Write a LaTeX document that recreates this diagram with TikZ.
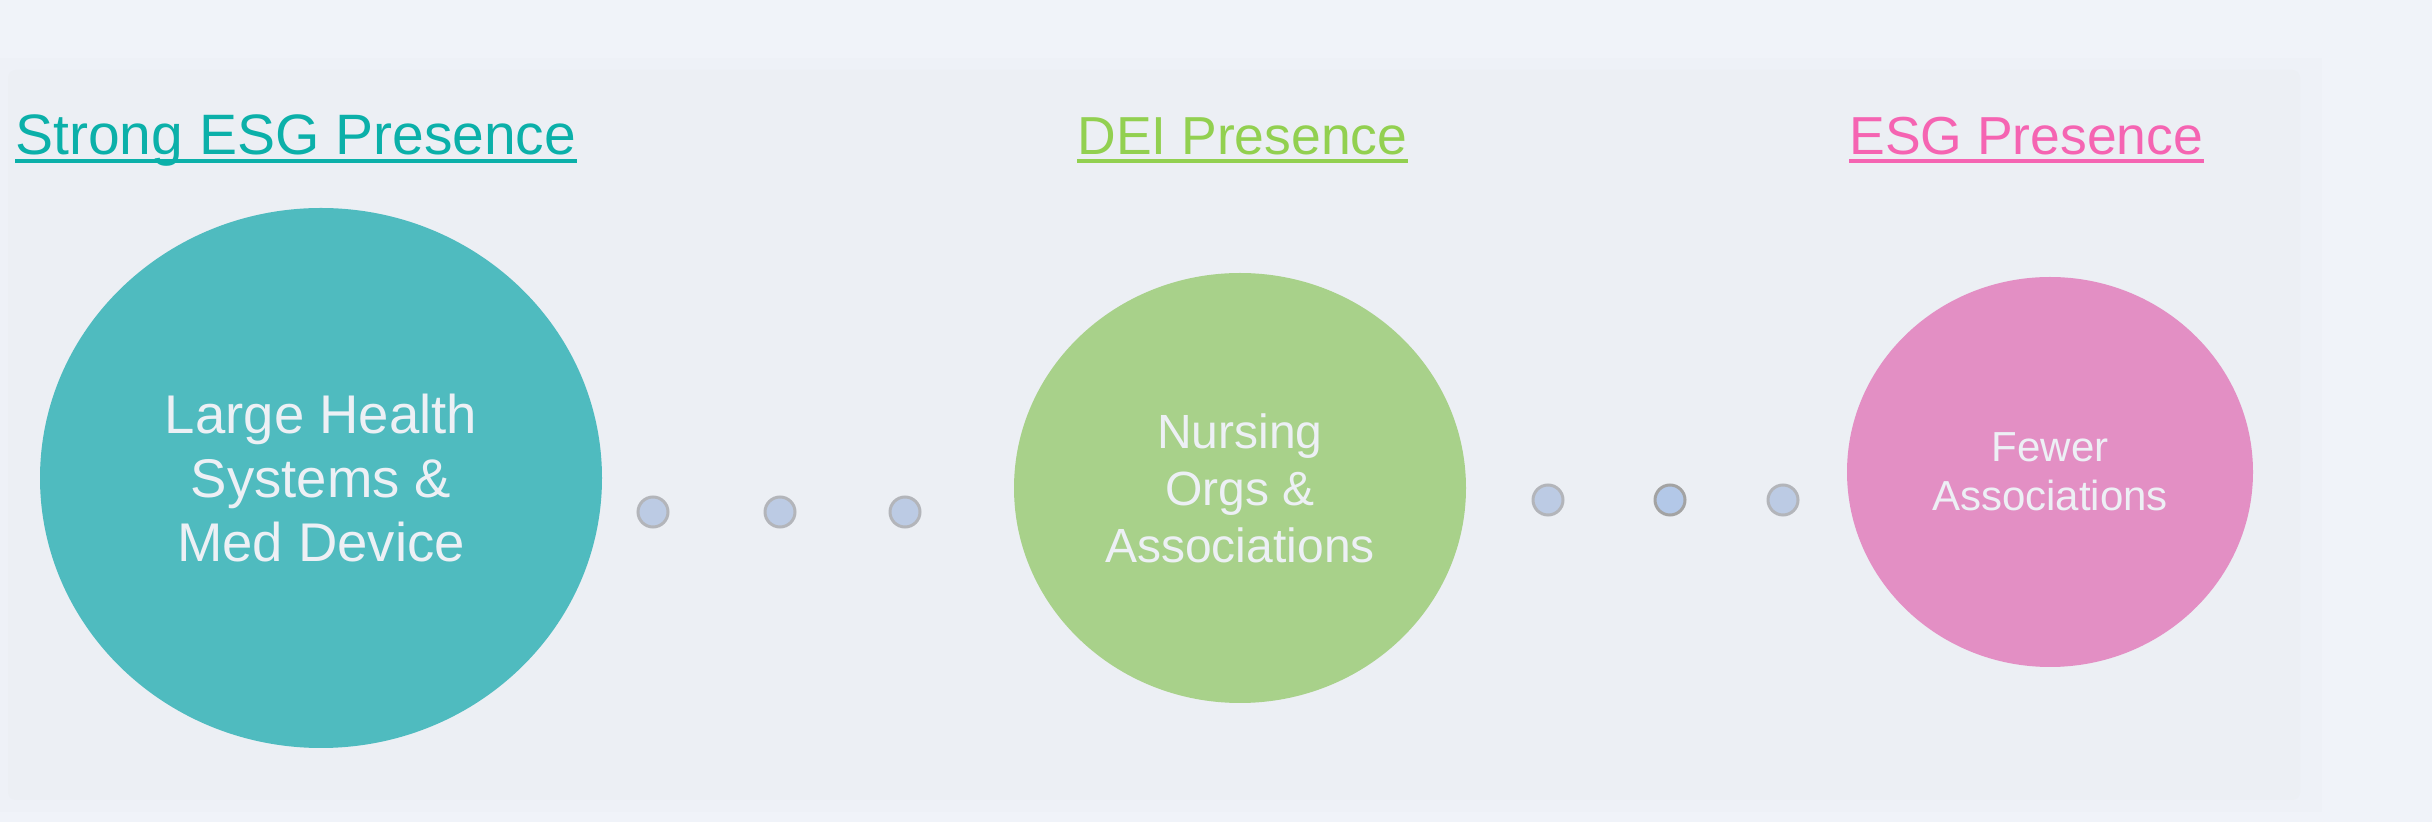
\documentclass[tikz,border=0pt]{standalone}
\usepackage{fontspec}
\setmainfont{Liberation Sans}
\usepackage{xcolor}
\usepackage{tikz}
\usetikzlibrary{shapes.geometric,calc}

\definecolor{bgouter}{HTML}{F0F3F9}
\definecolor{panelglow}{HTML}{EEF1F7}
\definecolor{panelcore}{HTML}{ECEFF4}
\definecolor{tealtitle}{HTML}{0BB0A9}
\definecolor{greentitle}{HTML}{92D050}
\definecolor{pinktitle}{HTML}{F564B2}
\definecolor{tealfill}{HTML}{4FBBBF}
\definecolor{greenfill}{HTML}{A8D18A}
\definecolor{pinkfill}{HTML}{E38FC4}
\definecolor{blobtext}{HTML}{EDF0F5}
\definecolor{dotfill}{HTML}{BCCBE4}
\definecolor{dotline}{HTML}{B3B5BA}

\tikzset{
  heading/.style={anchor=base west, inner sep=0pt},
  blob/.style={ellipse, inner sep=0pt, align=center, text=blobtext},
  dotnode/.style={circle, minimum size=15pt, inner sep=0pt, fill=dotfill, draw=dotline, line width=1.5pt}
}

\begin{document}
\begin{tikzpicture}[x=0.5pt, y=-0.5pt]
    \useasboundingbox (0,0) rectangle (2432,822);
    % background and panel
    \fill[bgouter] (0,0) rectangle (2432,822);
    \fill[panelglow] (0,58) rectangle (2322,812);
    \fill[panelcore, rounded corners=4pt] (8,70) rectangle (2300,800);

    % headings
    \node[heading, tealtitle, font=\fontsize{28.5}{34}\selectfont] (hstrong) at (15,155) {Strong ESG Presence};
    \node[heading, greentitle, font=\fontsize{26.75}{32}\selectfont] (hdei) at (1077,155) {DEI Presence};
    \node[heading, pinktitle, font=\fontsize{26.75}{32}\selectfont] (hesg) at (1849,155) {ESG Presence};
    \draw[tealtitle, line width=2pt] ($(hstrong.base west)+(0,6)$) -- ($(hstrong.base east)+(0,6)$);
    \draw[greentitle, line width=2pt] ($(hdei.base west)+(0,6)$) -- ($(hdei.base east)+(0,6)$);
    \draw[pinktitle, line width=2pt] ($(hesg.base west)+(0,6)$) -- ($(hesg.base east)+(0,6)$);

    % groups
    \node[blob, fill=tealfill, minimum width=281pt, minimum height=270pt, font=\fontsize{27.25}{32}\selectfont] (large) at (321,478) {Large Health\\Systems \&\\Med Device};
    \node[blob, fill=greenfill, minimum width=226pt, minimum height=215pt, font=\fontsize{24}{28.5}\selectfont] (nursing) at (1240,488) {Nursing\\Orgs \&\\Associations};
    \node[blob, fill=pinkfill, minimum width=203pt, minimum height=195pt, font=\fontsize{21}{24.75}\selectfont] (fewer) at (2050,472) {Fewer\\Associations};

    % dots between groups
    \node[dotnode] (d1) at (653,512) {};
    \node[dotnode] (d2) at (780,512) {};
    \node[dotnode] (d3) at (905,512) {};
    \node[dotnode] (d4) at (1548,500) {};
    \node[dotnode, fill={rgb,255:red,179;green,200;blue,232}, draw={rgb,255:red,163;green,163;blue,163}] (d5) at (1670,500) {};
    \node[dotnode] (d6) at (1783,500) {};
\end{tikzpicture}
\end{document}
